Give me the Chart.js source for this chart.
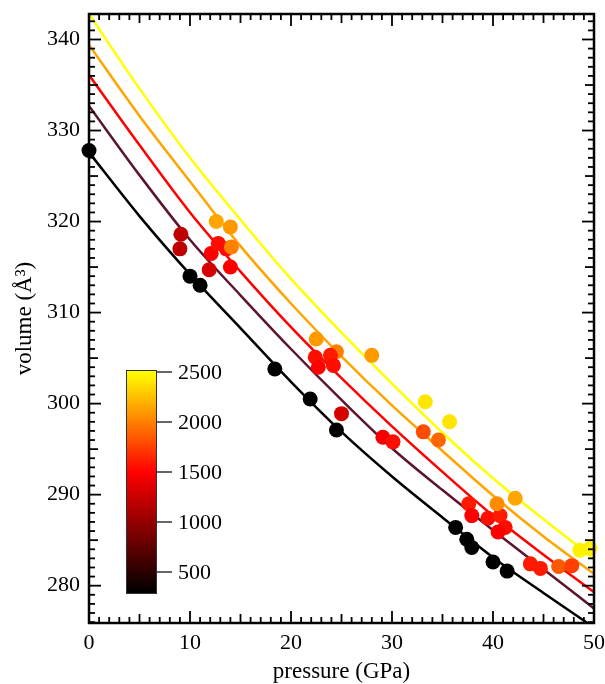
<!DOCTYPE html>
<html><head><meta charset="utf-8">
<script src="https://cdn.jsdelivr.net/npm/chart.js@4.4.0/dist/chart.umd.min.js"></script>
<style>html,body{margin:0;padding:0;background:#fff;}#wrap{width:605px;height:684px;position:relative;}</style>
</head><body><div id="wrap"><canvas id="c" width="605" height="684"></canvas></div>
<script>
// ---- data ----
const pressureGrid = [0,5,10,15,20,25,30,35,40,45,50];
const fit300K  = [327.6,320.6,314.2,308.3,302.4,296.9,292.0,287.5,283.1,279.2,275.4];
const fit1000K = [332.7,325.1,318.0,311.9,306.0,300.4,295.1,290.5,286.1,281.8,277.5];
const fit1500K = [336.1,328.4,321.0,314.5,308.4,302.8,297.5,292.5,287.7,283.4,279.3];
const fit2000K = [339.4,331.6,324.4,317.3,311.0,305.2,299.8,294.8,289.9,285.4,281.3];
const fit2500K = [342.8,334.6,327.0,320.2,313.7,307.8,302.2,296.8,291.8,287.3,283.0];
const fitColors = ['#000000','#5c1430','#ff0000','#ffa500','#ffff00'];

const obsPressure = [0,10.0,11.0,18.4,21.9,24.5,36.3,37.4,37.9,40.0,41.4,
  9.1,9.0,11.9,12.1,12.8,13.6,14.0,12.6,14.0,14.1,
  22.5,24.5,22.4,22.7,23.9,24.2,28.0,25.0,29.1,30.1,
  33.1,34.6,33.3,35.7,
  37.6,37.9,39.5,40.7,41.2,40.5,40.4,42.2,
  43.7,44.7,46.5,47.8,48.6,49.6];
const obsVolume = [327.8,314.0,313.0,303.8,300.5,297.1,286.4,285.1,284.2,282.6,281.6,
  318.6,317.0,314.7,316.5,317.6,317.0,315.0,320.0,319.4,317.2,
  307.1,305.7,305.1,304.0,305.3,304.2,305.3,298.9,296.3,295.8,
  296.9,296.0,300.2,298.0,
  289.0,287.7,287.4,287.7,286.4,285.9,289.0,289.6,
  282.4,281.9,282.1,282.2,283.9,284.1];
const obsTemperature = [300,300,300,300,300,300,300,300,300,300,300,
  1200,1200,1300,1500,1550,1550,1500,2150,2100,2000,
  2100,2000,1550,1500,1600,1550,2100,1300,1450,1550,
  1800,1900,2400,2400,
  1600,1500,1550,1600,1550,1500,2050,2150,
  1600,1600,1850,1750,2450,2450];
const colorbarTicks = [500,1000,1500,2000,2500];

function heat(T){
  const r = Math.max(0, Math.min(1, (T-300)/1200));
  const g = Math.max(0, Math.min(1, (T-1500)/1000));
  return `rgb(${Math.round(255*r)},${Math.round(255*g)},0)`;
}

const FONT = 'Liberation Serif, Times New Roman, serif';
const fits = [fit300K, fit1000K, fit1500K, fit2000K, fit2500K];
const datasets = fits.map((arr,i)=>({
  type:'scatter', showLine:true, data: pressureGrid.map((p,j)=>({x:p,y:arr[j]})),
  borderColor: fitColors[i], backgroundColor: fitColors[i], borderWidth:2.5,
  pointRadius:0, cubicInterpolationMode:'monotone', order:2
}));
datasets.push({
  type:'scatter', data: obsPressure.map((p,i)=>({x:p,y:obsVolume[i]})),
  pointRadius:7.5, pointBorderWidth:0,
  pointBackgroundColor: obsTemperature.map(heat), pointBorderColor: obsTemperature.map(heat),
  clip:false, order:0
});

const framePlugin = {
  id:'frame',
  afterDraw(chart){
    const {ctx, chartArea:a, scales:{x,y}} = chart;
    ctx.save();
    ctx.strokeStyle='#000'; ctx.lineWidth=1.8;
    const seg=(x1,y1,x2,y2)=>{ctx.beginPath();ctx.moveTo(x1,y1);ctx.lineTo(x2,y2);ctx.stroke();};
    for(let v=0; v<=50; v++){
      const px=x.getPixelForValue(v); const L = v%10===0?12:(v%5===0?9:6);
      seg(px,a.bottom,px,a.bottom-L); seg(px,a.top,px,a.top+L);
    }
    for(let v=276; v<=342; v++){
      const py=y.getPixelForValue(v); const L = v%10===0?12:(v%5===0?9:6);
      seg(a.left,py,a.left+L,py); seg(a.right,py,a.right-L,py);
    }
    ctx.lineWidth=2.5; ctx.strokeRect(a.left,a.top,a.right-a.left,a.bottom-a.top);
    // colorbar
    const bx=126, bw=31, top=370, bot=594, vTop=2520, vBot=280;
    const vy = v => top + (vTop - v)/(vTop - vBot)*(bot-top);
    const g = ctx.createLinearGradient(0,top,0,bot);
    for(let v=vBot; v<=vTop; v+=20){ g.addColorStop((vTop-v)/(vTop-vBot), heat(v)); }
    ctx.fillStyle=g; ctx.fillRect(bx,top,bw,bot-top);
    ctx.lineWidth=1; ctx.strokeStyle='#333'; ctx.strokeRect(bx+0.5,top+0.5,bw-1,bot-top-1);
    ctx.fillStyle='#000'; ctx.font='22px '+FONT; ctx.textBaseline='middle'; ctx.textAlign='left';
    ctx.strokeStyle='#000'; ctx.lineWidth=1.2;
    colorbarTicks.forEach(t=>{ const yy=vy(t); seg(bx+bw,yy,bx+bw+15,yy); ctx.fillText(String(t), bx+bw+21, yy+1); });
    ctx.restore();
  }
};

new Chart(document.getElementById('c'), {
  type:'scatter',
  data:{datasets},
  options:{
    responsive:false, animation:false, devicePixelRatio:1,
    layout:{padding:{left:0,right:11,top:14,bottom:0}},
    plugins:{legend:{display:false}, tooltip:{enabled:false}},
    scales:{
      x:{type:'linear', min:0, max:50,
         ticks:{stepSize:10, includeBounds:false, color:'#000', font:{family:FONT,size:22}, padding:7, maxRotation:0},
         grid:{display:false, drawTicks:false}, border:{display:false},
         title:{display:true, text:'pressure (GPa)', color:'#000', font:{family:FONT,size:23,lineHeight:1}, padding:{top:0,bottom:1}},
         afterFit(s){ s.height = 61; s.paddingLeft = 0; s.paddingRight = 0; }},
      y:{type:'linear', min:275.9, max:342.8,
         ticks:{stepSize:10, includeBounds:false, color:'#000', font:{family:FONT,size:22}, padding:9},
         grid:{display:false, drawTicks:false}, border:{display:false},
         title:{display:true, text:'volume (Å³)', color:'#000', font:{family:FONT,size:23,lineHeight:1}, padding:{top:13,bottom:0}},
         afterFit(s){ s.width = 89; s.paddingTop = 0; s.paddingBottom = 0; }}
    }
  },
  plugins:[framePlugin]
});
</script></body></html>
